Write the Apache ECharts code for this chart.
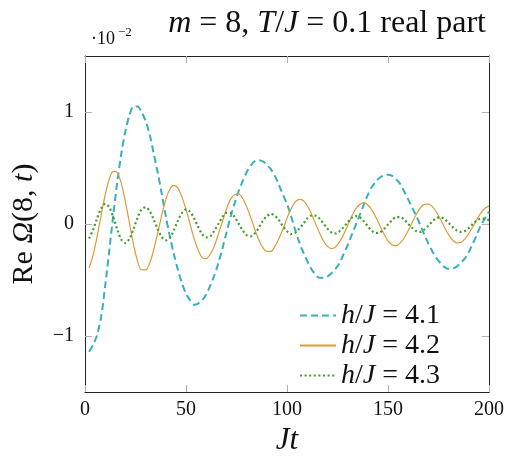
<!DOCTYPE html>
<html>
<head>
<meta charset="utf-8">
<script src="https://cdn.jsdelivr.net/npm/echarts@6/dist/echarts.min.js"></script>
<style>
  html, body { margin: 0; padding: 0; background: #fff; }
  #chart { width: 513px; height: 456px; }
</style>
</head>
<body>
<div id="chart"></div>
<script>
// Jt values (shared by all three curves)
var times = [2, 4, 6, 8, 10, 12, 14, 16, 18, 20, 22, 24, 26, 28, 30, 32, 34, 36, 38, 40,
  42, 44, 46, 48, 50, 52, 54, 56, 58, 60, 62, 64, 66, 68, 70, 72, 74, 76, 78, 80,
  82, 84, 86, 88, 90, 92, 94, 96, 98, 100, 102, 104, 106, 108, 110, 112, 114, 116, 118, 120,
  122, 124, 126, 128, 130, 132, 134, 136, 138, 140, 142, 144, 146, 148, 150, 152, 154, 156, 158, 160,
  162, 164, 166, 168, 170, 172, 174, 176, 178, 180, 182, 184, 186, 188, 190, 192, 194, 196, 198, 200];

// Re Omega(8,t) in units of 1e-2
var h41 = [-1.14, -1.08, -0.99, -0.83, -0.55, -0.24, 0.08, 0.38, 0.63, 0.83, 0.97, 1.05, 1.05, 1.00, 0.92, 0.80, 0.63, 0.46, 0.27, 0.07,
  -0.11, -0.27, -0.41, -0.53, -0.62, -0.68, -0.72, -0.71, -0.68, -0.63, -0.55, -0.46, -0.35, -0.22, -0.08, 0.06, 0.18, 0.29, 0.38, 0.46,
  0.52, 0.56, 0.57, 0.56, 0.53, 0.49, 0.43, 0.35, 0.26, 0.18, 0.07, -0.05, -0.16, -0.25, -0.33, -0.40, -0.45, -0.48, -0.48, -0.47,
  -0.44, -0.40, -0.35, -0.27, -0.19, -0.10, -0.01, 0.08, 0.17, 0.26, 0.33, 0.38, 0.415, 0.435, 0.44, 0.43, 0.40, 0.36, 0.29, 0.22,
  0.145, 0.07, -0.01, -0.095, -0.175, -0.245, -0.305, -0.35, -0.385, -0.40, -0.395, -0.38, -0.345, -0.31, -0.25, -0.175, -0.095, -0.01, 0.05, 0.11];

var h42 = [-0.39, -0.28, -0.11, 0.08, 0.26, 0.40, 0.47, 0.46, 0.36, 0.20, 0.01, -0.18, -0.33, -0.41, -0.41, -0.35, -0.23, -0.08, 0.08, 0.22,
  0.31, 0.345, 0.32, 0.24, 0.13, 0.00, -0.13, -0.23, -0.30, -0.31, -0.27, -0.20, -0.09, 0.02, 0.13, 0.22, 0.26, 0.27, 0.23, 0.155,
  0.06, -0.045, -0.14, -0.21, -0.245, -0.245, -0.20, -0.13, -0.045, 0.05, 0.135, 0.195, 0.22, 0.21, 0.165, 0.095, 0.01, -0.075, -0.15, -0.20,
  -0.22, -0.205, -0.16, -0.095, -0.015, 0.065, 0.135, 0.175, 0.19, 0.17, 0.125, 0.06, -0.015, -0.09, -0.15, -0.185, -0.195, -0.17, -0.125, -0.06,
  0.015, 0.085, 0.145, 0.175, 0.178, 0.155, 0.105, 0.04, -0.03, -0.095, -0.145, -0.168, -0.165, -0.135, -0.085, -0.025, 0.04, 0.10, 0.14, 0.16];

var h43 = [-0.13, -0.05, 0.05, 0.14, 0.18, 0.15, 0.06, -0.05, -0.14, -0.17, -0.13, -0.045, 0.055, 0.13, 0.15, 0.115, 0.04, -0.045, -0.115, -0.145,
  -0.125, -0.055, 0.03, 0.10, 0.13, 0.11, 0.05, -0.025, -0.09, -0.12, -0.11, -0.06, 0.00, 0.06, 0.10, 0.10, 0.065, 0.005, -0.055, -0.10,
  -0.11, -0.085, -0.035, 0.025, 0.07, 0.09, 0.075, 0.035, -0.02, -0.065, -0.09, -0.08, -0.045, 0.00, 0.05, 0.075, 0.075, 0.05, 0.005, -0.04,
  -0.075, -0.085, -0.065, -0.03, 0.015, 0.055, 0.07, 0.06, 0.025, -0.02, -0.06, -0.08, -0.075, -0.045, -0.005, 0.035, 0.062, 0.062, 0.04, 0.00,
  -0.035, -0.063, -0.07, -0.05, -0.015, 0.025, 0.053, 0.06, 0.043, 0.01, -0.028, -0.057, -0.07, -0.062, -0.035, 0.00, 0.03, 0.048, 0.045, 0.035];

var seriesNames = ['h/J = 4.1', 'h/J = 4.2', 'h/J = 4.3'];
var yTicks = [-1, 0, 1];

function pairs(ys) {
  var out = [];
  for (var i = 0; i < times.length; i++) out.push([times[i], ys[i]]);
  return out;
}

var serif = '"Liberation Serif", "DejaVu Serif", serif';
var frame = { show: true, onZero: false, lineStyle: { color: '#222', width: 1 } };
var tick = { show: true, inside: true, length: 7, lineStyle: { color: '#b0b0b0', width: 1 } };

var myChart = echarts.init(document.getElementById('chart'), null, { renderer: 'canvas' });

var option = {
  backgroundColor: '#fff',
  animation: false,
  title: {
    text: '{i|m} = 8, {i|T}/{i|J} = 0.1 real part',
    right: 22,
    top: 3,
    textStyle: {
      fontFamily: serif, fontSize: 32, fontWeight: 'normal', color: '#111',
      rich: { i: { fontFamily: serif, fontSize: 32, fontStyle: 'italic', color: '#111' } }
    }
  },
  graphic: [
    { type: 'text', left: 91, top: 30, style: { text: '·10', font: '18px ' + serif, fill: '#111' } },
    { type: 'text', left: 118, top: 26, style: { text: '−2', font: '13px ' + serif, fill: '#111' } }
  ],
  grid: { left: 85, right: 24, top: 56, bottom: 64, outerBoundsMode: 'none', containLabel: false },
  legend: {
    orient: 'vertical',
    left: 294,
    top: 296,
    itemWidth: 36,
    itemHeight: 14,
    itemGap: 1,
    itemStyle: { opacity: 0 },
    data: seriesNames,
    formatter: function (name) {
      return '{i|h}/{i|J} = ' + name.split('= ')[1];
    },
    textStyle: {
      fontFamily: serif, fontSize: 28, color: '#111', lineHeight: 29,
      rich: { i: { fontFamily: serif, fontSize: 28, fontStyle: 'italic', color: '#111' } }
    }
  },
  xAxis: [{
    type: 'value', min: 0, max: 200, interval: 50, position: 'bottom',
    axisLine: frame, axisTick: tick, splitLine: { show: false },
    axisLabel: { fontFamily: serif, fontSize: 20, color: '#111', margin: 8 },
    name: '{i|Jt}', nameLocation: 'middle', nameGap: 31,
    nameTextStyle: { rich: { i: { fontFamily: serif, fontSize: 31, fontStyle: 'italic', color: '#111' } } }
  }, {
    type: 'value', min: 0, max: 200, interval: 50, position: 'top',
    axisLine: frame, axisTick: tick, splitLine: { show: false },
    axisLabel: { show: false }
  }],
  yAxis: [{
    type: 'value', min: -1.5, max: 1.5, position: 'left',
    axisLine: frame,
    axisTick: { show: true, inside: true, length: 7, lineStyle: { color: '#b0b0b0', width: 1 }, customValues: yTicks },
    splitLine: { show: false },
    axisLabel: {
      fontFamily: serif, fontSize: 20, color: '#111', margin: 11, customValues: yTicks,
      formatter: function (v) { return v < 0 ? '−' + Math.abs(v) : String(v); }
    },
    name: 'Re {i|Ω}(8, {i|t})', nameLocation: 'middle', nameGap: 46, nameRotate: 90,
    nameTextStyle: {
      fontFamily: serif, fontSize: 30, color: '#111',
      rich: { i: { fontFamily: serif, fontSize: 30, fontStyle: 'italic', color: '#111' } }
    }
  }, {
    type: 'value', min: -1.5, max: 1.5, position: 'right',
    axisLine: frame,
    axisTick: { show: true, inside: true, length: 7, lineStyle: { color: '#b0b0b0', width: 1 }, customValues: yTicks },
    splitLine: { show: false },
    axisLabel: { show: false }
  }],
  series: [{
    name: seriesNames[0], type: 'line', smooth: 0.3, symbol: 'none', showSymbol: false,
    lineStyle: { color: '#37b0bb', width: 2, type: [7, 4] },
    itemStyle: { color: '#37b0bb' },
    data: pairs(h41)
  }, {
    name: seriesNames[1], type: 'line', smooth: 0.3, symbol: 'none', showSymbol: false,
    lineStyle: { color: '#de9a38', width: 1.2 },
    itemStyle: { color: '#de9a38' },
    data: pairs(h42)
  }, {
    name: seriesNames[2], type: 'line', smooth: 0.3, symbol: 'none', showSymbol: false,
    lineStyle: { color: '#3f9e25', width: 2.2, type: [2, 2.6] },
    itemStyle: { color: '#3f9e25' },
    data: pairs(h43)
  }]
};
myChart.setOption(option);
</script>
</body>
</html>
